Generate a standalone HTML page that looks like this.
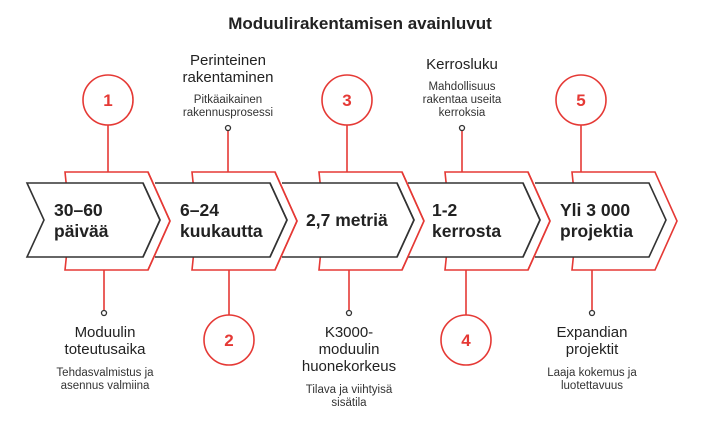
<!DOCTYPE html>
<html><head><meta charset="utf-8"><style>
html,body{margin:0;padding:0;background:#fff;}
svg{display:block;font-family:"Liberation Sans",sans-serif;}
.h{font-size:15px;fill:#222;text-anchor:middle}
.s{font-size:11.5px;fill:#333;text-anchor:middle}
.b{font-size:17.5px;font-weight:bold;fill:#222}
.n{font-size:17px;font-weight:bold;fill:#e53935;text-anchor:middle}
</style></head><body>
<svg width="720" height="421" viewBox="0 0 720 421">
<text x="360" y="29" text-anchor="middle" style="font-size:17px;font-weight:bold;fill:#222">Moduulirakentamisen avainluvut</text>
<g stroke="#e53935" stroke-width="1.6" fill="none">
<line x1="108" y1="125" x2="108" y2="172"/>
<line x1="347" y1="125" x2="347" y2="172"/>
<line x1="581" y1="125" x2="581" y2="172"/>
<line x1="228" y1="131" x2="228" y2="172"/>
<line x1="462" y1="131" x2="462" y2="172"/>
<line x1="104" y1="270" x2="104" y2="310"/>
<line x1="229" y1="270" x2="229" y2="315"/>
<line x1="349" y1="270" x2="349" y2="310"/>
<line x1="466" y1="270" x2="466" y2="315"/>
<line x1="592" y1="270" x2="592" y2="310"/>
<circle cx="108" cy="100" r="25" fill="#fff"/>
<circle cx="347" cy="100" r="25" fill="#fff"/>
<circle cx="581" cy="100" r="25" fill="#fff"/>
<circle cx="229" cy="340" r="25" fill="#fff"/>
<circle cx="466" cy="340" r="25" fill="#fff"/>
</g>
<g stroke="#333" stroke-width="1.3" fill="#fff">
<circle cx="228" cy="128" r="2.5"/><circle cx="462" cy="128" r="2.5"/>
<circle cx="104" cy="313" r="2.5"/><circle cx="349" cy="313" r="2.5"/><circle cx="592" cy="313" r="2.5"/>
</g>
<text class="n" x="108" y="106">1</text>
<text class="n" x="347" y="106">3</text>
<text class="n" x="581" y="106">5</text>
<text class="n" x="229" y="346">2</text>
<text class="n" x="466" y="346">4</text>

<!-- chevrons -->
<g stroke-width="1.6">
<polygon points="65,172 148,172 170,221 148,270 65,270 70,221" fill="#fff" stroke="#e53935"/>
<polygon points="27,183 143,183 160,220 143,257 27,257 44,220" fill="#fff" stroke="#333"/>
<polygon points="192,172 275,172 297,221 275,270 192,270 197,221" fill="#fff" stroke="#e53935"/>
<polygon points="155,183 270,183 287,220 270,257 155,257 172,220" fill="#fff" stroke="none"/>
<polyline points="155,183 270,183 287,220 270,257 155,257" fill="none" stroke="#333"/>
<polygon points="319,172 402,172 424,221 402,270 319,270 324,221" fill="#fff" stroke="#e53935"/>
<polygon points="282,183 397,183 414,220 397,257 282,257 299,220" fill="#fff" stroke="none"/>
<polyline points="282,183 397,183 414,220 397,257 282,257" fill="none" stroke="#333"/>
<polygon points="445,172 528,172 550,221 528,270 445,270 450,221" fill="#fff" stroke="#e53935"/>
<polygon points="408,183 523,183 540,220 523,257 408,257 425,220" fill="#fff" stroke="none"/>
<polyline points="408,183 523,183 540,220 523,257 408,257" fill="none" stroke="#333"/>
<polygon points="572,172 655,172 677,221 655,270 572,270 577,221" fill="#fff" stroke="#e53935"/>
<polygon points="535,183 649,183 666,220 649,257 535,257 552,220" fill="#fff" stroke="none"/>
<polyline points="535,183 649,183 666,220 649,257 535,257" fill="none" stroke="#333"/>
</g>
<!-- re-draw red right edges visible over next dark -->
<g stroke="#e53935" stroke-width="1.6" fill="none">
<polyline points="148,172 170,221 148,270"/>
<polyline points="275,172 297,221 275,270"/>
<polyline points="402,172 424,221 402,270"/>
<polyline points="528,172 550,221 528,270"/>
</g>
<g stroke="#333" stroke-width="1.6" fill="none">
<polyline points="143,183 160,220 143,257"/>
<polyline points="270,183 287,220 270,257"/>
<polyline points="397,183 414,220 397,257"/>
<polyline points="523,183 540,220 523,257"/>
</g>

<text class="b" x="54" y="216">30–60</text><text class="b" x="54" y="237">päivää</text>
<text class="b" x="180" y="216">6–24</text><text class="b" x="180" y="237">kuukautta</text>
<text class="b" x="306" y="226">2,7 metriä</text>
<text class="b" x="432" y="216">1-2</text><text class="b" x="432" y="237">kerrosta</text>
<text class="b" x="560" y="216">Yli 3 000</text><text class="b" x="560" y="237">projektia</text>

<text class="h" x="228" y="65">Perinteinen</text><text class="h" x="228" y="82">rakentaminen</text>
<text class="s" x="228" y="103">Pitkäaikainen</text><text class="s" x="228" y="116">rakennusprosessi</text>
<text class="h" x="462" y="69">Kerrosluku</text>
<text class="s" x="462" y="90">Mahdollisuus</text><text class="s" x="462" y="103">rakentaa useita</text><text class="s" x="462" y="116">kerroksia</text>

<text class="h" x="105" y="337">Moduulin</text><text class="h" x="105" y="354">toteutusaika</text>
<text class="s" x="105" y="376">Tehdasvalmistus ja</text><text class="s" x="105" y="389">asennus valmiina</text>
<text class="h" x="349" y="337">K3000-</text><text class="h" x="349" y="354">moduulin</text><text class="h" x="349" y="371">huonekorkeus</text>
<text class="s" x="349" y="393">Tilava ja viihtyisä</text><text class="s" x="349" y="406">sisätila</text>
<text class="h" x="592" y="337">Expandian</text><text class="h" x="592" y="354">projektit</text>
<text class="s" x="592" y="376">Laaja kokemus ja</text><text class="s" x="592" y="389">luotettavuus</text>
</svg>
</body></html>
